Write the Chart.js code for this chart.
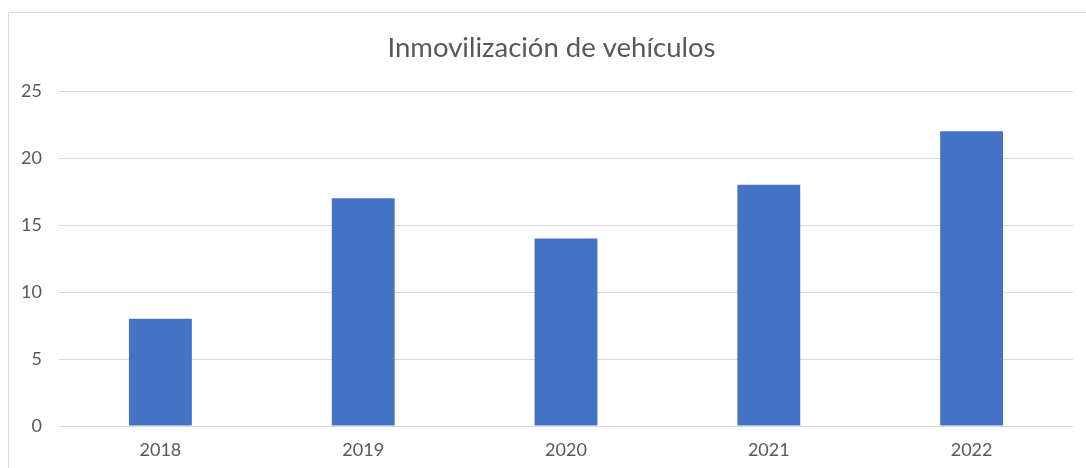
<!DOCTYPE html>
<html>
<head>
<meta charset="utf-8">
<script src="https://cdn.jsdelivr.net/npm/chart.js@4"></script>
<style>
  html, body { margin: 0; padding: 0; background: #fff; overflow: hidden; }
  #wrap { position: absolute; left: 0; top: 0; width: 1086px; height: 468px; }
  #frame { position: absolute; left: 8px; top: 12px; width: 1100px; height: 500px; border: 1px solid #d9d9d9; box-sizing: border-box; }
  canvas { position: absolute; left: 0; top: 0; }
</style>
</head>
<body>
<div id="wrap">
  <div id="frame"></div>
  <canvas id="c" width="1086" height="468"></canvas>
</div>
<script>
const titleText = "Inmovilización de vehículos";
const categories = ["2018", "2019", "2020", "2021", "2022"];
const values = [8, 17, 14, 18, 22];
const yTicks = [0, 5, 10, 15, 20, 25];

const textColor = "#595959";
const fontFamily = "Lato, 'Open Sans', 'Liberation Sans', sans-serif";

// shift the title's horizontal span so it is centred like the reference
const titleShift = {
  id: "titleShift",
  afterLayout(chart) {
    if (chart.titleBlock) { chart.titleBlock.left = 30; }
  }
};

new Chart(document.getElementById("c"), {
  type: "bar",
  data: {
    labels: categories,
    datasets: [{
      label: titleText,
      data: values,
      backgroundColor: "#4472C4",
      borderWidth: 0,
      barPercentage: 0.62,
      categoryPercentage: 0.5
    }]
  },
  plugins: [titleShift],
  options: {
    responsive: false,
    animation: false,
    devicePixelRatio: 1,
    layout: { padding: { left: 0, right: 13, top: 0, bottom: 0 } },
    plugins: {
      legend: { display: false },
      tooltip: { enabled: false },
      title: {
        display: true,
        text: titleText,
        color: textColor,
        font: { family: fontFamily, size: 27.5, weight: "normal", lineHeight: 1.2 },
        padding: { top: 31.5, bottom: 26.5 }
      }
    },
    scales: {
      x: {
        afterFit: (s) => { s.height = 42; },
        grid: { display: false, drawTicks: false },
        border: { display: false },
        ticks: { color: textColor, font: { family: fontFamily, size: 18, lineHeight: 1.2 }, padding: 13 }
      },
      y: {
        min: 0,
        max: 25,
        afterBuildTicks: (s) => { s.ticks = yTicks.map(v => ({ value: v })); },
        afterFit: (s) => { s.width = 59; },
        grid: { color: "#d9d9d9", lineWidth: 1, drawTicks: false },
        border: { display: false },
        ticks: { color: textColor, font: { family: fontFamily, size: 18 }, padding: 17 }
      }
    }
  }
});
</script>
</body>
</html>
